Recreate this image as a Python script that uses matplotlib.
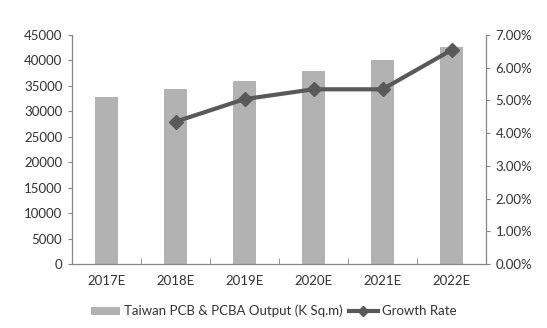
import matplotlib
matplotlib.use("Agg")
import matplotlib.pyplot as plt
import numpy as np
from matplotlib.ticker import FuncFormatter, FixedLocator

plt.rcParams['font.family'] = ['Lato', 'DejaVu Sans']

years = ["2017E", "2018E", "2019E", "2020E", "2021E", "2022E"]
output_ksqm = [32900, 34300, 36000, 38000, 40000, 42700]
growth_years = ["2018E", "2019E", "2020E", "2021E", "2022E"]
growth_pct = [4.35, 5.04, 5.34, 5.34, 6.54]

bar_color = "#b2b2b2"
line_color = "#595959"
axis_color = "#868686"
text_color = "#333333"

fig = plt.figure(figsize=(5.47, 3.28), dpi=100)
ax = fig.add_axes([72 / 547, 1 - 264 / 328, (486 - 72) / 547, (264 - 35) / 328])

x = np.arange(len(years))
bars = ax.bar(x, output_ksqm, width=0.34, color=bar_color, zorder=2,
              label="Taiwan PCB & PCBA Output (K Sq.m)")
ax.set_xlim(-0.5, len(years) - 0.5)
ax.set_ylim(0, 45000)
ax.set_yticks(np.arange(0, 45001, 5000))
ax.set_xticks(x)
ax.set_xticklabels(years)
ax.xaxis.set_minor_locator(FixedLocator(np.arange(0.5, len(years) - 1, 1)))
ax.tick_params(axis="x", which="major", length=0, pad=8, labelsize=9.5, colors=text_color)
ax.tick_params(axis="x", which="minor", length=4, direction="in", color=axis_color)
ax.tick_params(axis="y", length=3, direction="out", color=axis_color, labelsize=9.5,
               labelcolor=text_color, pad=4)
for side in ("top", "right"):
    ax.spines[side].set_visible(False)
for side in ("left", "bottom"):
    ax.spines[side].set_color(axis_color)
    ax.spines[side].set_linewidth(0.9)

ax2 = ax.twinx()
gx = [years.index(y) for y in growth_years]
line, = ax2.plot(gx, [g / 100 for g in growth_pct], color=line_color, lw=3,
                 marker="D", markersize=7, zorder=3, label="Growth Rate")
ax2.set_ylim(0, 0.07)
ax2.set_yticks(np.arange(0, 0.0701, 0.01))
ax2.yaxis.set_major_formatter(FuncFormatter(lambda v, p: f"{v * 100:.2f}%"))
ax2.tick_params(axis="y", length=3, direction="out", color=axis_color, labelsize=9.5,
                labelcolor=text_color, pad=4)
for side in ("top", "left", "bottom"):
    ax2.spines[side].set_visible(False)
ax2.spines["right"].set_color(axis_color)
ax2.spines["right"].set_linewidth(0.9)

leg = fig.legend(handles=[bars, line], loc="center", bbox_to_anchor=(0.5, 1 - 311 / 328),
                 ncol=2, frameon=False, fontsize=9.5, handlelength=2.2, handleheight=0.55,
                 handletextpad=0.3, columnspacing=0.5, labelcolor=text_color)
for h in leg.legend_handles:
    if hasattr(h, "set_markersize"):
        h.set_markersize(5)

fig.savefig("out.png", dpi=100)
